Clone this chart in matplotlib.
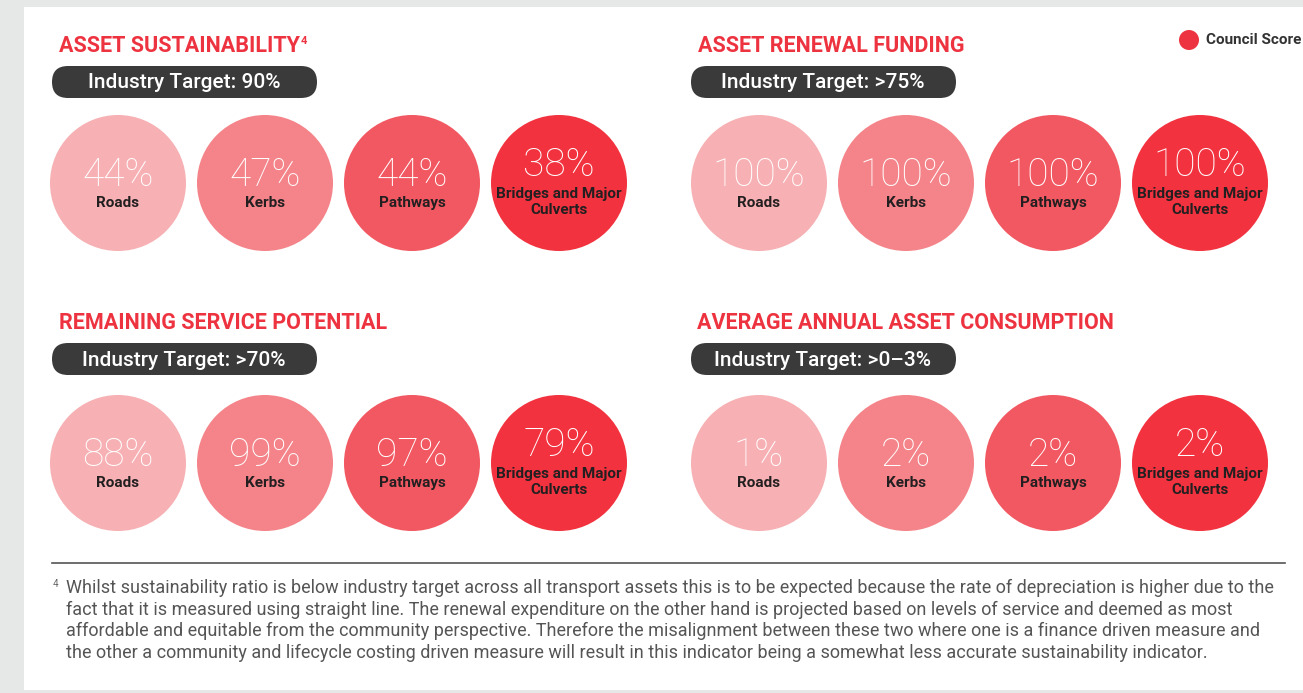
import matplotlib.pyplot as plt
from matplotlib.patches import Circle, FancyBboxPatch, Rectangle

# data
panel_titles = ["ASSET SUSTAINABILITY", "ASSET RENEWAL FUNDING",
                "REMAINING SERVICE POTENTIAL", "AVERAGE ANNUAL ASSET CONSUMPTION"]
panel_targets = ["Industry Target: 90%", "Industry Target: >75%",
                 "Industry Target: >70%", "Industry Target: >0\u20133%"]
categories = ["Roads", "Kerbs", "Pathways", "Bridges and Major\nCulverts"]
sustainability = [44, 47, 44, 38]
renewal_funding = [100, 100, 100, 100]
service_potential = [88, 99, 97, 79]
annual_consumption = [1, 2, 2, 2]
panel_values = [sustainability, renewal_funding, service_potential, annual_consumption]
circle_colors = ["#f7b0b3", "#f48489", "#f25861", "#f2333f"]
legend_label = "Council Score"
footnote_lines = [
    "Whilst sustainability ratio is below industry target across all transport assets this is to be expected because the rate of depreciation is higher due to the",
    "fact that it is measured using straight line. The renewal expenditure on the other hand is projected based on levels of service and deemed as most",
    "affordable and equitable from the community perspective. Therefore the misalignment between these two where one is a finance driven measure and",
    "the other a community and lifecycle costing driven measure will result in this indicator being a somewhat less accurate sustainability indicator.",
]

FONT = "Roboto"
RED = "#ee3340"
DARK = "#231f20"

W, H = 1303, 693
fig = plt.figure(figsize=(W / 100, H / 100), dpi=100)
fig.patch.set_facecolor("#e6e8e7")
ax = fig.add_axes([0, 0, 1, 1])
ax.set_xlim(0, W)
ax.set_ylim(H, 0)
ax.axis("off")
ax.add_patch(Rectangle((24, 7), W - 24, 683, facecolor="white", edgecolor="none"))

# panel layout
origins = [(52, 0), (691, 0), (52, 277), (691, 277)]
circle_rows = [183, 183, 463, 463]
radius = 68
step = 147

renderer = fig.canvas.get_renderer()
for p, (ox, oy) in enumerate(origins):
    title_x = ox + 7 if p != 3 else ox + 6
    t = ax.text(title_x, oy + 46, panel_titles[p], color=RED, fontsize=15.5,
                fontweight="bold", family=FONT, va="center", ha="left")
    if p == 0:
        bb = t.get_window_extent(renderer)
        x_end = ax.transData.inverted().transform((bb.x1, bb.y0))[0]
        ax.text(x_end + 1, oy + 41, "4", color=RED, fontsize=8, fontweight="bold",
                family=FONT, va="center", ha="left")
    ax.add_patch(FancyBboxPatch((ox, oy + 66), 265, 32,
                                boxstyle="round,pad=0,rounding_size=16",
                                facecolor="#3a3a3a", edgecolor="none"))
    ax.text(ox + 132, oy + 83, panel_targets[p], color="white", fontsize=15,
            fontweight="medium", family=FONT, va="center", ha="center")
    for i, (cat, val) in enumerate(zip(categories, panel_values[p])):
        cx = ox + 66 + i * step + (2 if p % 2 else 0)
        cy = circle_rows[p]
        ax.add_patch(Circle((cx, cy), radius, facecolor=circle_colors[i], edgecolor="none"))
        two_line = "\n" in cat
        ax.text(cx, cy - (18 if two_line else 8), f"{val}%", color="white", fontsize=28,
                family=FONT, fontweight="light", va="center", ha="center")
        ax.text(cx, cy + (19 if two_line else 20), cat, color=DARK, fontsize=11,
                fontweight="bold", family=FONT, va="center", ha="center",
                linespacing=1.15)

# legend
ax.add_patch(Circle((1189, 40), 10, facecolor=RED, edgecolor="none"))
ax.text(1206, 40, legend_label, color="#333333", fontsize=11, fontweight="bold",
        family=FONT, va="center", ha="left")

# divider and footnote
ax.plot([52, 1285], [563, 563], color="#555555", linewidth=1.2)
ax.text(53, 584, "4", color="#666666", fontsize=7, family=FONT, va="center", ha="left")
for k, line in enumerate(footnote_lines):
    ax.text(66, 588 + k * 21.7, line, color="#555555", fontsize=13, family=FONT,
            va="center", ha="left")

fig.savefig("out.png", dpi=100, facecolor=fig.get_facecolor())
